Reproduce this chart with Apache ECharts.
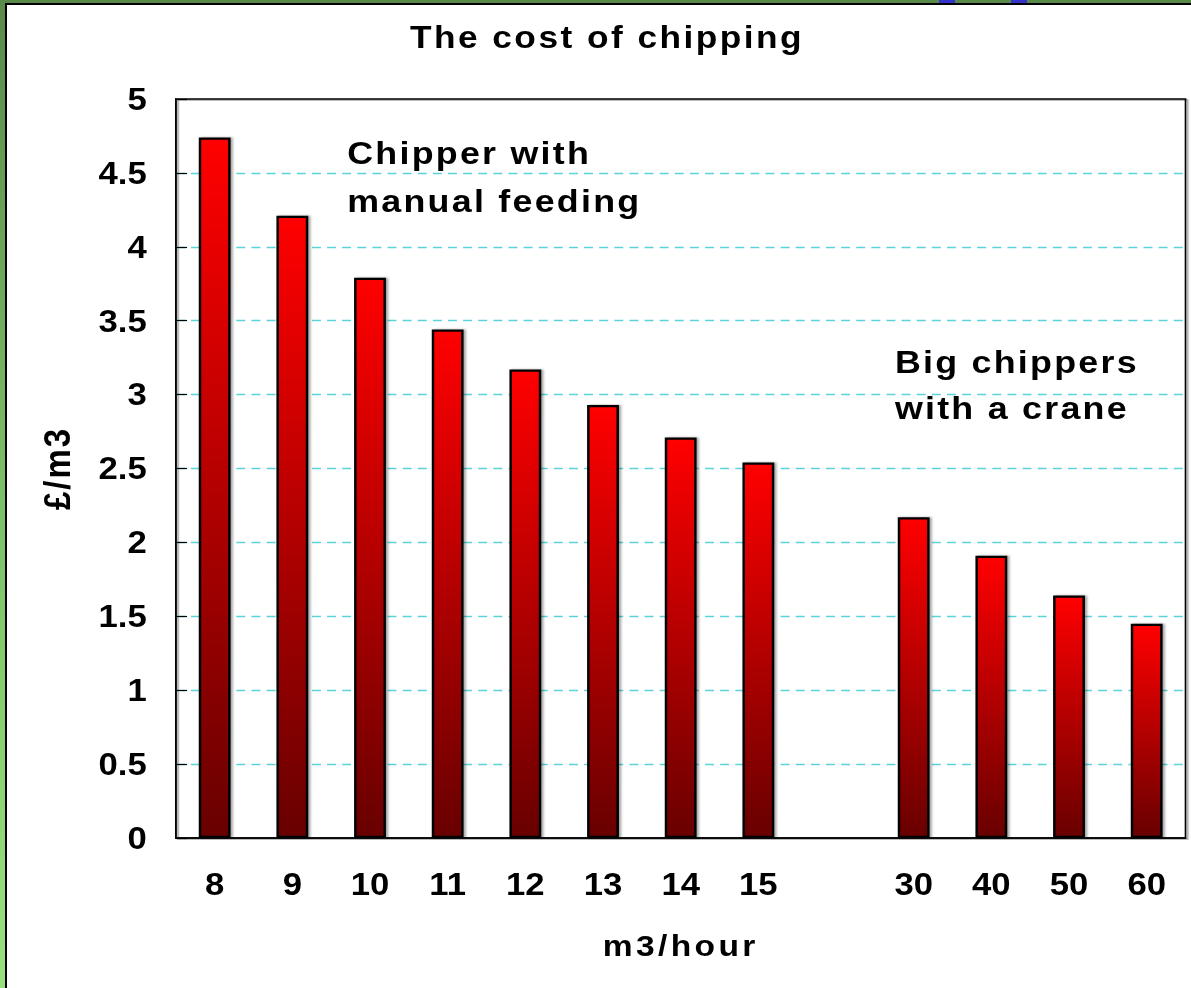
<!DOCTYPE html>
<html>
<head>
<meta charset="utf-8">
<script src="https://cdn.jsdelivr.net/npm/echarts@6/dist/echarts.min.js"></script>
<style>
  html, body { margin: 0; padding: 0; width: 1191px; height: 988px; overflow: hidden; }
  body { background: linear-gradient(to bottom, #5a8a4a 0%, #7cc066 50%, #98e07c 100%); position: relative; }
  #frame { position: absolute; left: 5px; top: 3px; right: 0; bottom: 0; background: #fff;
           border-left: 2px solid #000; border-top: 2px solid #000; }
  .mark { position: absolute; top: 0; height: 3px; width: 16px; background: #3333cc; }
  #chart { position: absolute; left: 0; top: 0; width: 1063px; height: 988px;
           transform: scaleX(1.12); transform-origin: 0 0; }
</style>
</head>
<body>
<div id="frame"></div>
<div class="mark" style="left:939px"></div>
<div class="mark" style="left:1011px"></div>
<div id="chart"></div>
<script>
// ---- data ----
var categories = ['8', '9', '10', '11', '12', '13', '14', '15', '', '30', '40', '50', '60'];
var costPerM3 = [4.74, 4.21, 3.79, 3.44, 3.17, 2.93, 2.71, 2.54, null, 2.17, 1.91, 1.64, 1.45];
var yTicks = [0, 0.5, 1, 1.5, 2, 2.5, 3, 3.5, 4, 4.5, 5];
var titleText = 'The cost of chipping';
var xName = 'm3/hour';
var yName = '£/m3';
var note1 = 'Chipper with\nmanual feeding';
var note2 = 'Big chippers\nwith a crane';

var FONT = "'Liberation Sans', Arial, sans-serif";
var chart = echarts.init(document.getElementById('chart'), null, { renderer: 'svg', width: 1063, height: 988 });

var option = {
  animation: false,
  backgroundColor: 'transparent',
  title: {
    text: titleText,
    left: 366,
    top: 21,
    padding: 0,
    textStyle: { fontFamily: FONT, fontWeight: 'bold', fontSize: 31.5, color: '#000' }
  },
  grid: {
    left: 157, top: 99, right: 4.5, bottom: 150,
    show: true, borderColor: '#000', borderWidth: 1.5,
    shadowColor: 'rgba(0,0,0,0.35)', shadowOffsetX: 2, shadowOffsetY: 1, shadowBlur: 1
  },
  xAxis: {
    type: 'category',
    data: categories,
    boundaryGap: true,
    name: xName,
    nameLocation: 'middle',
    nameGap: 93,
    nameTextStyle: { fontFamily: FONT, fontWeight: 'bold', fontSize: 30, color: '#000' },
    axisLine: { lineStyle: { color: '#000', width: 1.5 } },
    axisTick: { inside: true, length: 10, alignWithLabel: false, lineStyle: { color: '#777', width: 1.1 } },
    axisLabel: { margin: 31, interval: 0, fontFamily: FONT, fontWeight: 'bold', fontSize: 31, color: '#000' },
    splitLine: { show: false }
  },
  yAxis: {
    type: 'value',
    min: yTicks[0],
    max: yTicks[yTicks.length - 1],
    interval: yTicks[1] - yTicks[0],
    name: yName,
    nameLocation: 'middle',
    nameGap: 90,
    nameRotate: 90,
    nameTextStyle: { fontFamily: FONT, fontWeight: 'bold', fontSize: 33, color: '#000' },
    axisLine: { show: true, lineStyle: { color: '#000', width: 1.5 } },
    axisTick: { show: true, inside: true, length: 10, lineStyle: { color: '#000', width: 1.2 } },
    axisLabel: { margin: 26, fontFamily: FONT, fontWeight: 'bold', fontSize: 31, color: '#000' },
    splitLine: { show: true, showMinLine: false, showMaxLine: false,
                 lineStyle: { color: '#5cd3d6', width: 1.3, type: [8, 5.5] } }
  },
  series: [{
    type: 'bar',
    data: costPerM3,
    barWidth: '41%',
    silent: true,
    itemStyle: {
      color: {
        type: 'linear', x: 0, y: 0, x2: 0, y2: 1,
        colorStops: [{ offset: 0, color: '#ff0000' }, { offset: 1, color: '#680000' }]
      },
      borderColor: '#000',
      borderWidth: 2.2,
      shadowColor: 'rgba(0,0,0,0.35)',
      shadowOffsetX: 2,
      shadowOffsetY: 0,
      shadowBlur: 2
    }
  }],
  graphic: [
    {
      type: 'text', left: 310, top: 129, silent: true,
      style: { text: note1, font: 'bold 32px ' + FONT, lineHeight: 48, fill: '#000' }
    },
    {
      type: 'text', left: 799, top: 339, silent: true,
      style: { text: note2, font: 'bold 32px ' + FONT, lineHeight: 46, fill: '#000' }
    }
  ]
};
chart.setOption(option);

function applySpacing() {
  var texts = document.querySelectorAll('#chart svg text');
  texts.forEach(function (t) {
    var fs = parseFloat(getComputedStyle(t).fontSize);
    var sp = 0;
    if (fs >= 33) sp = 2;
    else if (fs >= 32) sp = 2;
    else if (fs >= 31.5) sp = 2.2;
    else if (fs >= 31) sp = 0;
    else if (fs >= 30) sp = 3;
    t.style.letterSpacing = sp + 'px';
  });
}
chart.on('finished', applySpacing);
setTimeout(applySpacing, 50);
setTimeout(applySpacing, 300);
</script>
</body>
</html>
